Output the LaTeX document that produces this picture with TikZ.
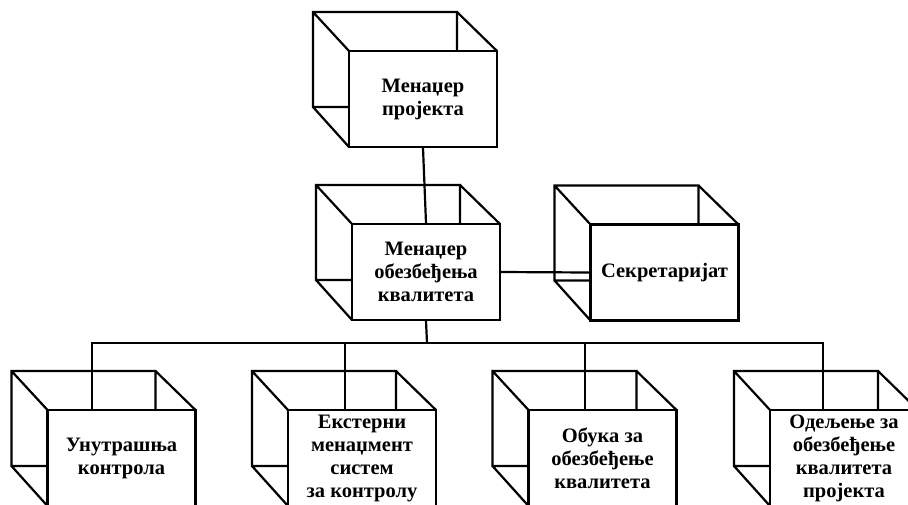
\documentclass[tikz,border=0pt]{standalone}
\usepackage{fontspec}
\setmainfont{Liberation Serif}
\usetikzlibrary{calc}
\tikzset{
  edge/.style={line width=2.2pt},
  frontbox/.style={draw, edge, fill=white, minimum width=148pt, minimum height=96pt,
    inner sep=0pt, align=center, font=\fontsize{20.5}{23}\selectfont\bfseries},
}
% open box: back frame and corner diagonals, then the front face on top
\newcommand\cubebox[4]{%
  \draw[edge] ({#2-110},{#3-87}) rectangle ({#2+34},{#3+8})
    ({#2-110},{#3-87}) -- ({#2-74},{#3-48})
    ({#2+34},{#3-87}) -- ({#2+74},{#3-48})
    ({#2-110},{#3+8}) -- ({#2-74},{#3+48});
  \node[frontbox] (#1) at (#2,#3) {#4};
}
\begin{document}
\begin{tikzpicture}[x=1pt,y=-1pt]
  \useasboundingbox (0,0) rectangle (908,504);
  \clip (0,0) rectangle (908,504);

  \cubebox{pm}{423}{99}{Менаџер\\пројекта}
  \cubebox{qm}{426}{272}{Менаџер\\обезбеђења\\квалитета}
  \cubebox{sec}{664.5}{272.5}{Секретаријат}
  \cubebox{ic}{121.5}{458}{Унутрашња\\контрола}
  \cubebox{ext}{362}{458}{Екстерни\\менаџмент\\систем\\за контролу}
  \cubebox{tr}{602.5}{458}{Обука за\\обезбеђење\\квалитета}
  \cubebox{dep}{844}{458}{Одељење за\\обезбеђење\\квалитета\\пројекта}

  % drop points on the lower boxes and the junction of the bus
  \coordinate (j) at (427,343);
  \coordinate (d1) at (92,410);
  \coordinate (d2) at (345,410);
  \coordinate (d3) at (585,410);
  \coordinate (d4) at (823,410);

  \draw[edge] (pm.south) -- (qm.north);
  \draw[edge] (qm.east) -- (sec.west);
  \draw[edge] (qm.south) -- (j);
  \draw[edge] (d1) |- (j) -| (d4);
  \draw[edge] (d2) -- (d2 |- j);
  \draw[edge] (d3) -- (d3 |- j);
\end{tikzpicture}
\end{document}
